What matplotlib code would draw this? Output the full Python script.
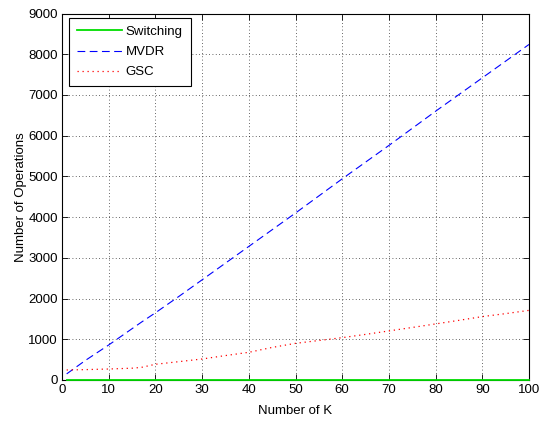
import matplotlib
matplotlib.use("Agg")
import matplotlib.pyplot as plt
import numpy as np

plt.rcParams['font.family'] = ['Liberation Sans', 'DejaVu Sans']

# Number of sources K and operation counts per method
k_values = [1, 5, 10, 15, 17, 20, 25, 30, 35, 40, 45, 50, 55, 60, 65, 70, 75, 80, 85, 90, 95, 100]
switching_ops = [10, 10, 10, 10, 10, 10, 10, 10, 10, 10, 10, 10, 10, 10, 10, 10, 10, 10, 10, 10, 10, 10]
mvdr_ops = [150, 480, 860, 1260, 1420, 1650, 2050, 2460, 2870, 3280, 3690, 4100, 4520, 4940, 5350, 5760, 6180, 6600, 7010, 7420, 7830, 8240]
gsc_ops = [246, 255, 270, 290, 310, 386, 450, 516, 600, 680, 800, 900, 970, 1040, 1120, 1205, 1290, 1377, 1465, 1557, 1630, 1710]

x_ticks = [0, 10, 20, 30, 40, 50, 60, 70, 80, 90, 100]
y_ticks = [0, 1000, 2000, 3000, 4000, 5000, 6000, 7000, 8000, 9000]

fig = plt.figure(figsize=(5.4, 4.22), dpi=100)
ax = fig.add_axes([62 / 540, 42 / 422, 467 / 540, 366.5 / 422])

ax.plot(k_values, switching_ops, color='#00dd00', linestyle='-', linewidth=1.3,
        label='Switching', zorder=3, clip_on=False)
ax.plot(k_values, mvdr_ops, color='#0000ff', linestyle=(0, (7, 4)), linewidth=0.8, label='MVDR')
ax.plot(k_values, gsc_ops, color='#ff0000', linestyle=(0, (1, 3)), linewidth=0.9, label='GSC')

ax.set_xlim(0, 100)
ax.set_ylim(0, 9000)
ax.set_xticks(x_ticks)
ax.set_yticks(y_ticks)
ax.tick_params(direction='in', top=True, right=True, length=4, width=0.6,
               labelsize=9.5, colors='black', pad=3)
ax.grid(True, linestyle=(0, (1, 3)), color='black', linewidth=0.6, alpha=0.8)
for spine in ax.spines.values():
    spine.set_linewidth(0.8)

ax.set_xlabel('Number of K', fontsize=9.5, labelpad=6)
ax.set_ylabel('Number of Operations', fontsize=9.5, labelpad=1)

leg = ax.legend(loc='upper left', bbox_to_anchor=(0.015, 0.988), borderaxespad=0,
                fontsize=9.5, fancybox=False, framealpha=1, edgecolor='black',
                handlelength=3.4, handletextpad=0.3, borderpad=0.6, labelspacing=0.6)
leg.get_frame().set_linewidth(0.8)

fig.savefig('out.png', dpi=100)
